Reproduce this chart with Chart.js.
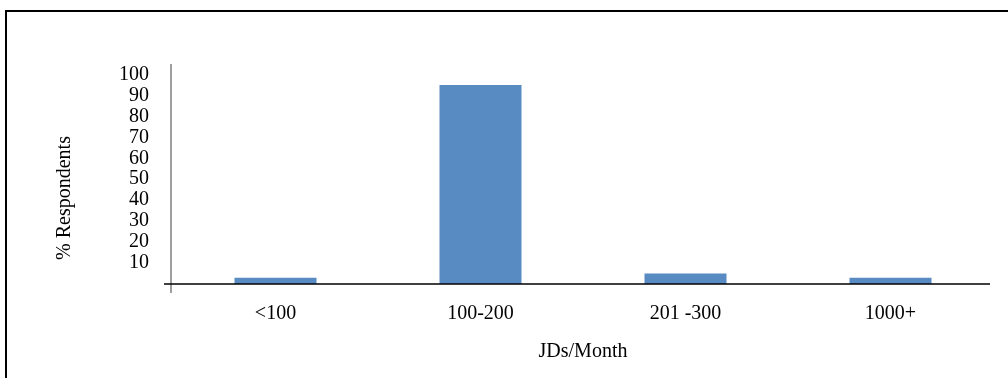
<!DOCTYPE html>
<html>
<head>
    <title>JDs per Month</title>
    <script src="https://cdn.jsdelivr.net/npm/chart.js"></script>
    <style>
        body { margin: 0; background: #fff; }
        #wrap { width: 1008px; height: 378px; }
    </style>
</head>
<body>
    <div id="wrap"><canvas id="myChart" width="1008" height="378"></canvas></div>
    <script>
        var categories = ['<100', '100-200', '201 -300', '1000+'];
        var respondents = [3, 95, 5, 3];
        var yTicks = [10, 20, 30, 40, 50, 60, 70, 80, 90, 100];

        var serif = '"Liberation Serif", "Times New Roman", serif';

        // frame, axis lines and the y title drawn by hand
        var decor = {
            id: 'decor',
            beforeDraw(chart) {
                var c = chart.ctx;
                c.save();
                c.strokeStyle = '#000';
                c.lineWidth = 2;
                c.beginPath();
                c.moveTo(6, 400);
                c.lineTo(6, 11);
                c.lineTo(1010, 11);
                c.stroke();
                c.restore();
            },
            afterDatasetsDraw(chart) {
                var c = chart.ctx;
                var a = chart.chartArea;
                var y0 = chart.scales.y.getPixelForValue(0);
                var ax = a.left - 2;
                c.save();
                c.lineWidth = 1.5;
                c.strokeStyle = '#7f7f7f';
                c.beginPath();
                c.moveTo(ax, a.top);
                c.lineTo(ax, y0 + 9);
                c.stroke();
                c.strokeStyle = '#000';
                c.beginPath();
                c.moveTo(ax - 7, y0);
                c.lineTo(990, y0);
                c.stroke();

                c.fillStyle = '#000';
                c.font = '20px ' + serif;
                c.textAlign = 'center';
                c.textBaseline = 'middle';
                c.translate(65, 198);
                c.rotate(-Math.PI / 2);
                c.fillText('% Respondents', 0, 0);
                c.restore();
            }
        };

        var ctx = document.getElementById('myChart').getContext('2d');
        var myChart = new Chart(ctx, {
            type: 'bar',
            data: {
                labels: categories,
                datasets: [{
                    data: respondents,
                    backgroundColor: '#588BC2',
                    barPercentage: 0.4,
                    categoryPercentage: 1.0
                }]
            },
            options: {
                responsive: false,
                animation: false,
                layout: { padding: { top: 64, right: 15, left: 0, bottom: 0 } },
                plugins: {
                    legend: { display: false },
                    tooltip: { enabled: false }
                },
                scales: {
                    x: {
                        grid: { display: false, drawTicks: false },
                        border: { display: false },
                        ticks: {
                            color: '#000',
                            font: { family: serif, size: 20 },
                            padding: 18
                        },
                        title: {
                            display: true,
                            text: 'JDs/Month',
                            color: '#000',
                            font: { family: serif, size: 20 },
                            padding: { top: 0, bottom: 14 }
                        },
                        afterFit(scale) { scale.height = 94; }
                    },
                    y: {
                        min: 0,
                        max: 105,
                        grid: { display: false, drawTicks: false },
                        border: { display: false },
                        afterBuildTicks(scale) {
                            scale.ticks = [0].concat(yTicks).map(function (v) { return { value: v }; });
                        },
                        ticks: {
                            color: '#000',
                            font: { family: serif, size: 20 },
                            padding: 24,
                            autoSkip: false,
                            callback: function (v) { return v === 0 ? '' : v; }
                        },
                        afterFit(scale) { scale.width = 173; }
                    }
                }
            },
            plugins: [decor]
        });
    </script>
</body>
</html>
